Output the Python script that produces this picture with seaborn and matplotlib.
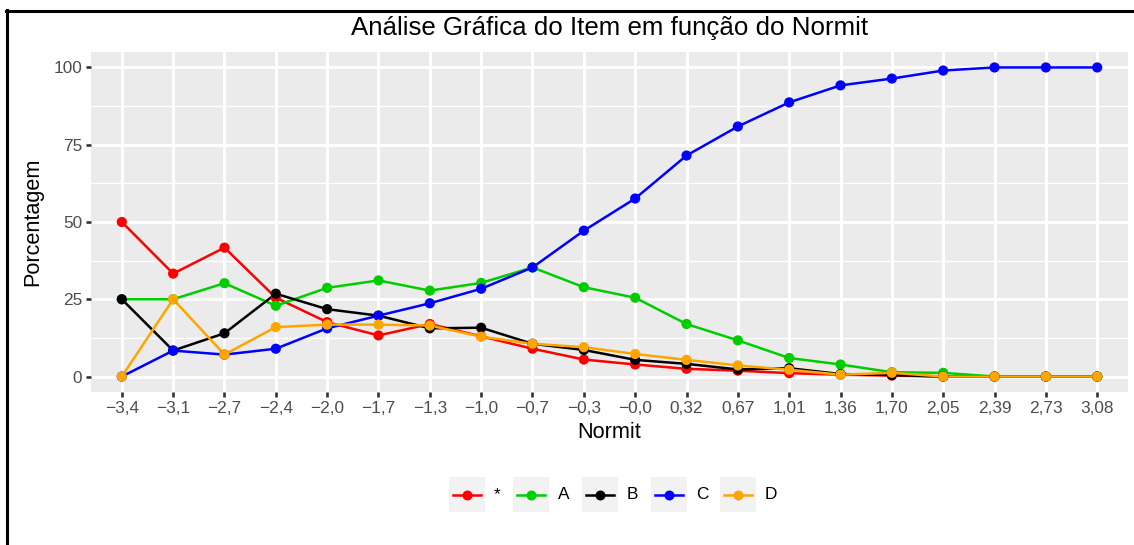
import matplotlib
matplotlib.use("Agg")
import matplotlib.pyplot as plt
from matplotlib.lines import Line2D
from matplotlib.patches import Rectangle
import seaborn as sns
import pandas as pd

# dados
normit = ["−3,4", "−3,1", "−2,7", "−2,4", "−2,0", "−1,7", "−1,3", "−1,0", "−0,7", "−0,3",
          "−0,0", "0,32", "0,67", "1,01", "1,36", "1,70", "2,05", "2,39", "2,73", "3,08"]
alternativas = ["*", "A", "B", "C", "D"]
perc_estrela = [50.0, 33.3, 41.7, 25.5, 17.6, 13.3, 17.0, 13.0, 9.0, 5.5,
                3.9, 2.5, 1.9, 1.1, 0.6, 0.3, 0.0, 0.0, 0.0, 0.0]
perc_A = [25.0, 25.0, 30.2, 22.9, 28.7, 31.1, 27.8, 30.3, 35.3, 28.9,
          25.5, 17.0, 11.7, 6.0, 3.9, 1.4, 1.2, 0.0, 0.0, 0.0]
perc_B = [25.0, 8.4, 14.0, 26.8, 21.8, 19.7, 15.6, 15.8, 10.6, 8.6,
          5.4, 4.1, 2.3, 2.7, 0.8, 0.5, 0.0, 0.0, 0.0, 0.0]
perc_C = [0.0, 8.4, 7.1, 9.0, 15.6, 19.7, 23.7, 28.4, 35.3, 47.2,
          57.6, 71.5, 80.9, 88.7, 94.2, 96.4, 99.0, 100.0, 100.0, 100.0]
perc_D = [0.0, 25.0, 7.1, 16.0, 16.8, 16.8, 16.5, 12.9, 10.6, 9.5,
          7.3, 5.4, 3.6, 2.2, 0.6, 1.2, 0.0, 0.0, 0.0, 0.0]
cores = ["#FF0000", "#00CD00", "#000000", "#0000FF", "#FFA500"]

series = [perc_estrela, perc_A, perc_B, perc_C, perc_D]
df = pd.DataFrame({
    "Normit": normit * len(alternativas),
    "Porcentagem": [v for s in series for v in s],
    "alt": [a for a in alternativas for _ in normit],
})
paleta = dict(zip(alternativas, cores))

plt.rcParams["font.family"] = ["Liberation Sans", "DejaVu Sans"]

W, H = 1134, 545
fig = plt.figure(figsize=(W / 100, H / 100), dpi=100)
fig.patch.set_facecolor("white")
ax = fig.add_axes([91 / W, 1 - 392 / H, (1128 - 91) / W, (392 - 52) / H])

sns.lineplot(data=df, x="Normit", y="Porcentagem", hue="alt", palette=paleta,
             sort=False, linewidth=1.8, legend=False, ax=ax, zorder=3)
sns.scatterplot(data=df, x="Normit", y="Porcentagem", hue="alt", palette=paleta,
                s=54, linewidth=0, legend=False, ax=ax, zorder=4)

# estilo ggplot theme_gray
ax.set_facecolor("#EBEBEB")
for s in ax.spines.values():
    s.set_visible(False)
ax.set_xlim(-0.6, len(normit) - 1 + 0.6)
ax.set_ylim(-5, 105)
ax.set_yticks([0, 25, 50, 75, 100])
ax.set_yticks([12.5, 37.5, 62.5, 87.5], minor=True)
ax.grid(which="major", color="white", linewidth=2.1, zorder=0)
ax.grid(which="minor", axis="y", color="white", linewidth=1.0, zorder=0)
ax.set_axisbelow(True)
ax.tick_params(axis="both", which="major", length=3.9, width=1.9, color="#333333",
               labelsize=12.4, labelcolor="#4D4D4D", pad=2.5)
ax.tick_params(axis="y", which="minor", length=0)

ax.set_xlabel("Normit", fontsize=15.6, color="black")
ax.set_ylabel("Porcentagem", fontsize=15.6, color="black")
ax.xaxis.set_label_coords(0.5, (392 - 432) / 340)
ax.xaxis.label.set_va("center")
ax.yaxis.set_label_coords((33 - 91) / 1037, 0.5)
ax.yaxis.label.set_va("center")

ax.text(0.5, 1 + 24 / 340, "Análise Gráfica do Item em função do Normit",
        transform=ax.transAxes, ha="center", va="center", fontsize=18.6)

# legenda desenhada na parte de baixo
key_left = [449, 513, 582, 651, 720]
ky0, ky1 = 477, 512
for i, alt in enumerate(alternativas):
    x0 = key_left[i]
    fig.add_artist(Rectangle((x0 / W, 1 - ky1 / H), 36 / W, (ky1 - ky0) / H,
                             transform=fig.transFigure, facecolor="#F2F2F2",
                             edgecolor="none"))
    yc = 1 - (ky0 + ky1) / 2 / H
    fig.add_artist(Line2D([(x0 + 4) / W, (x0 + 32) / W], [yc, yc],
                          transform=fig.transFigure, color=cores[i], linewidth=1.8))
    fig.add_artist(Line2D([(x0 + 18) / W], [yc], transform=fig.transFigure,
                          marker="o", markersize=7.2, markeredgewidth=0,
                          color=cores[i]))
    fig.text((x0 + 45) / W, yc, alt, ha="left", va="center", fontsize=12.4,
             color="black")

# moldura preta (topo e esquerda)
fig.add_artist(Line2D([6 / W, 1], [1 - 10.5 / H, 1 - 10.5 / H],
                      transform=fig.transFigure, color="black", linewidth=2.2))
fig.add_artist(Line2D([7 / W, 7 / W], [0, 1 - 9.5 / H],
                      transform=fig.transFigure, color="black", linewidth=2.2))

fig.savefig("out.png", dpi=100)
